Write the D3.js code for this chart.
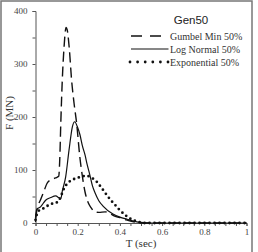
<!DOCTYPE html>
<html>
<head>
<meta charset="utf-8">
<script src="https://cdn.jsdelivr.net/npm/d3@7"></script>
<style>
  body { margin: 0; background: #fff; }
  svg { display: block; }
</style>
</head>
<body>
<div id="chart"></div>
<script>
// [T (sec), F (MN)]
const gumbelMin = [
  [0, 10], [0.01, 30], [0.025, 45], [0.04, 60], [0.055, 75], [0.075, 82], [0.095, 85],
  [0.11, 88], [0.115, 120], [0.12, 190], [0.127, 270], [0.135, 330], [0.145, 369],
  [0.15, 365], [0.16, 330], [0.171, 270], [0.183, 225], [0.195, 188], [0.21, 125],
  [0.22, 94], [0.235, 58], [0.25, 38], [0.265, 28], [0.28, 21], [0.3, 20], [0.33, 21],
  [0.35, 19], [0.37, 14], [0.4, 10], [0.43, 6], [0.47, 2], [0.5, 0], [1, 0]
];
const logNormal = [
  [0, 2], [0.005, 25], [0.025, 31], [0.048, 43], [0.072, 48], [0.096, 51], [0.11, 48],
  [0.12, 46], [0.127, 60], [0.143, 87], [0.159, 138], [0.175, 182], [0.186, 191],
  [0.198, 182], [0.211, 166], [0.222, 146], [0.235, 128], [0.245, 110], [0.258, 90],
  [0.27, 70], [0.282, 57], [0.3, 42], [0.32, 32], [0.367, 17], [0.4, 11], [0.434, 7],
  [0.47, 3], [0.5, 1], [0.55, 0], [1, 0]
];
const exponential = [
  [0, 6], [0.012, 22], [0.03, 26], [0.048, 30], [0.072, 36], [0.09, 37], [0.11, 42],
  [0.125, 55], [0.135, 65], [0.15, 74], [0.167, 80], [0.19, 84], [0.214, 87], [0.238, 89],
  [0.26, 87], [0.275, 83], [0.29, 78], [0.31, 68], [0.33, 57], [0.355, 44], [0.38, 33],
  [0.4, 24], [0.435, 12], [0.46, 6], [0.48, 3], [0.5, 1], [0.52, 0], [1, 0]
];
const seriesNames = ["Gumbel Min 50%", "Log Normal 50%", "Exponential 50%"];
const xTicks = [0, 0.2, 0.4, 0.6, 0.8, 1];
const yTicks = [0, 100, 200, 300, 400];

const width = 258, height = 252;
const margin = {top: 11, right: 11.5, bottom: 29, left: 35.5};

const svg = d3.select("#chart").append("svg")
  .attr("width", width)
  .attr("height", height);

// outer frame (bottom edge falls outside the picture)
svg.append("rect")
  .attr("x", 1).attr("y", 1)
  .attr("width", 251).attr("height", 270)
  .attr("fill", "none")
  .attr("stroke", "#777")
  .attr("stroke-width", 1.5);

const x = d3.scaleLinear().domain([0, 1]).range([margin.left, width - margin.right]);
const y = d3.scaleLinear().domain([0, 400]).range([height - margin.bottom, margin.top]);

const serif = "'Liberation Serif', 'Times New Roman', serif";

// axes
const xAxis = svg.append("g")
  .attr("transform", `translate(0,${y(0)})`)
  .call(d3.axisBottom(x)
    .tickValues(d3.range(0, 1.0001, 0.05))
    .tickSize(3).tickPadding(3)
    .tickFormat(d => xTicks.some(t => Math.abs(t - d) < 1e-6) ? d3.format("")(+d.toFixed(1)) : ""));

const yAxis = svg.append("g")
  .attr("transform", `translate(${x(0)},0)`)
  .call(d3.axisLeft(y)
    .tickValues(d3.range(0, 401, 50))
    .tickSize(3).tickPadding(5)
    .tickFormat(d => yTicks.includes(d) ? d : ""));

[xAxis, yAxis].forEach(g => {
  g.select(".domain").attr("stroke", "#555").attr("stroke-width", 1);
  g.selectAll(".tick line").attr("stroke", "#555");
  g.selectAll(".tick text")
    .attr("font-family", serif)
    .attr("font-size", 9)
    .attr("fill", "#444");
});

svg.append("text")
  .attr("x", x(0.5)).attr("y", 247)
  .attr("text-anchor", "middle")
  .attr("font-family", serif).attr("font-size", 11).attr("fill", "#333")
  .text("T (sec)");

svg.append("text")
  .attr("transform", `translate(13,${y(200) - 4}) rotate(-90)`)
  .attr("text-anchor", "middle")
  .attr("font-family", serif).attr("font-size", 11).attr("fill", "#333")
  .text("F (MN)");

// curves
const line = d3.line()
  .x(d => x(d[0]))
  .y(d => y(d[1]))
  .curve(d3.curveMonotoneX);

const styles = [
  {data: gumbelMin, width: 1.4, dash: "10,5", cap: "butt", legendDash: "11,8"},
  {data: logNormal, width: 1.2, dash: null, cap: "butt", legendDash: null},
  {data: exponential, width: 2.8, dash: "0,5", cap: "round", legendDash: "0,7.6"}
];

styles.forEach(s => {
  svg.append("path")
    .datum(s.data)
    .attr("d", line)
    .attr("fill", "none")
    .attr("stroke", "#111")
    .attr("stroke-width", s.width)
    .attr("stroke-dasharray", s.dash)
    .attr("stroke-linecap", s.cap);
});

// legend
svg.append("text")
  .attr("x", 191).attr("y", 24)
  .attr("text-anchor", "middle")
  .attr("font-family", "'Liberation Sans', Arial, sans-serif")
  .attr("font-size", 11.5).attr("fill", "#222")
  .text("Gen50");

const legend = svg.append("g");
styles.forEach((s, i) => {
  const ly = 36 + i * 13;
  legend.append("line")
    .attr("x1", s.cap === "round" ? 130 : 131).attr("x2", i === 0 ? 161 : 168.5)
    .attr("y1", ly).attr("y2", ly)
    .attr("stroke", "#111")
    .attr("stroke-width", s.width)
    .attr("stroke-dasharray", s.legendDash)
    .attr("stroke-linecap", s.cap);
  legend.append("text")
    .attr("x", 170).attr("y", ly + 3.5)
    .attr("font-family", serif).attr("font-size", 10).attr("fill", "#333")
    .text(seriesNames[i]);
});
</script>
</body>
</html>
